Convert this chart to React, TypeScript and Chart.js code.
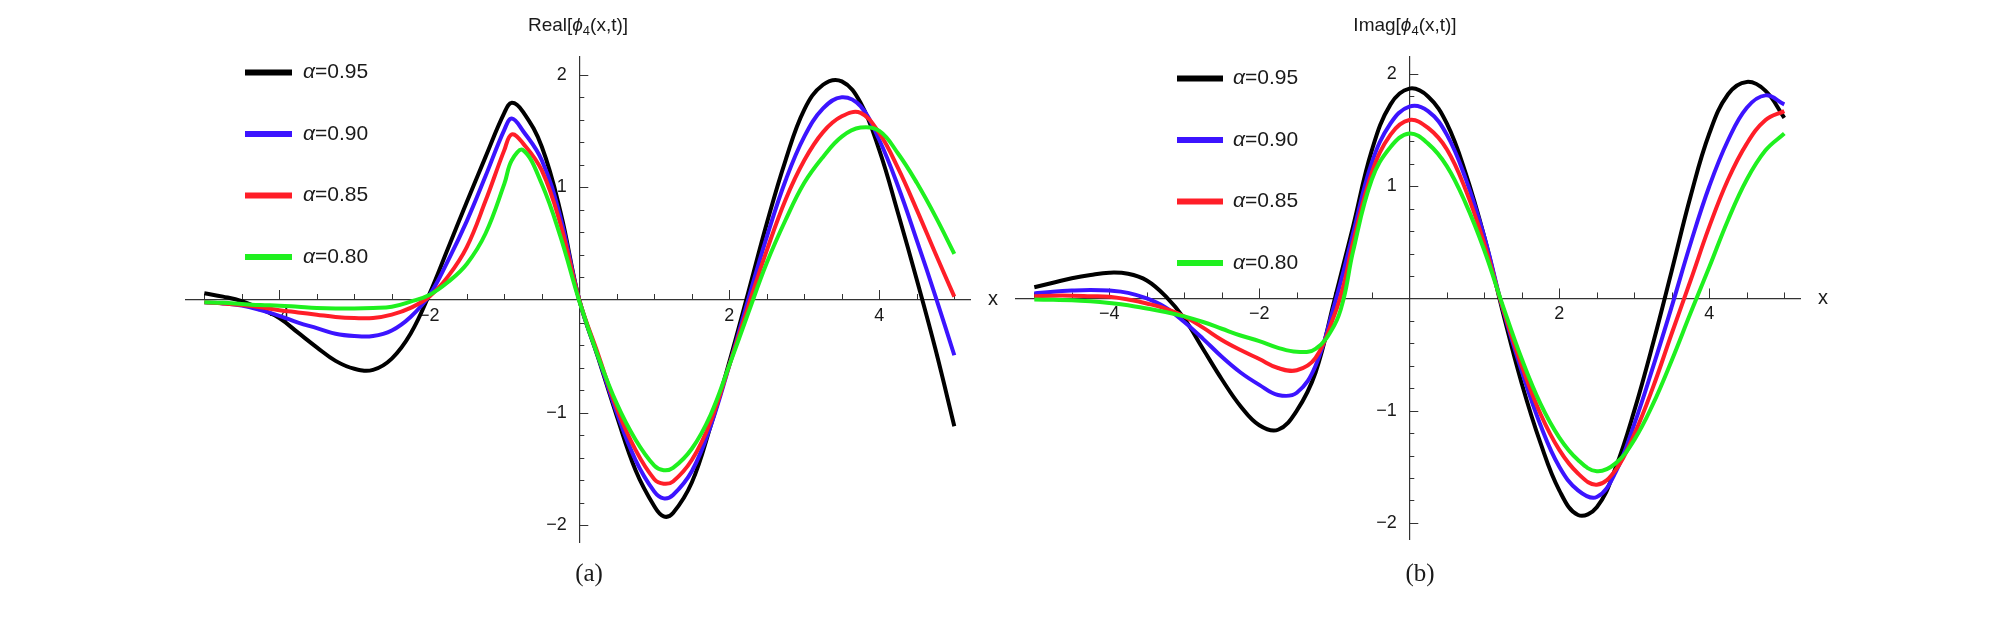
import React, { useEffect, useRef } from 'react';
import { Chart, registerables } from 'chart.js';

Chart.register(...registerables);

// ---------- data ----------
const X_A = [-5, -4.75, -4.5, -4.25, -4, -3.75, -3.5, -3.25, -3, -2.75, -2.5, -2.25, -2, -1.75, -1.5, -1.25, -1, -0.9, -0.75, -0.5, -0.25, 0, 0.25, 0.5, 0.75, 1, 1.125, 1.25, 1.5, 1.75, 2, 2.25, 2.5, 2.75, 3, 3.25, 3.5, 3.75, 4, 4.25, 4.5, 4.75, 5];

const REAL_095 = [0.06, 0.03, -0.01, -0.08, -0.16, -0.29, -0.42, -0.54, -0.61, -0.62, -0.52, -0.30, 0.05, 0.46, 0.87, 1.27, 1.66, 1.75, 1.67, 1.36, 0.78, 0.0, -0.51, -1.03, -1.51, -1.83, -1.92, -1.89, -1.62, -1.12, -0.55, 0.06, 0.68, 1.24, 1.69, 1.91, 1.94, 1.75, 1.33, 0.77, 0.18, -0.44, -1.12];
const REAL_090 = [-0.02, -0.03, -0.05, -0.09, -0.14, -0.20, -0.25, -0.30, -0.32, -0.32, -0.27, -0.15, 0.04, 0.35, 0.70, 1.10, 1.51, 1.61, 1.50, 1.24, 0.73, 0.0, -0.50, -1.00, -1.42, -1.70, -1.76, -1.73, -1.52, -1.12, -0.58, 0.0, 0.56, 1.06, 1.45, 1.70, 1.80, 1.72, 1.42, 1.01, 0.53, 0.03, -0.49];
const REAL_085 = [-0.02, -0.03, -0.045, -0.065, -0.09, -0.11, -0.13, -0.15, -0.16, -0.16, -0.13, -0.07, 0.03, 0.21, 0.47, 0.88, 1.33, 1.47, 1.39, 1.15, 0.67, 0.0, -0.48, -0.96, -1.33, -1.59, -1.63, -1.61, -1.42, -1.08, -0.58, -0.06, 0.44, 0.89, 1.24, 1.49, 1.63, 1.66, 1.48, 1.17, 0.80, 0.41, 0.03];
const REAL_080 = [-0.02, -0.025, -0.035, -0.045, -0.05, -0.06, -0.07, -0.075, -0.075, -0.07, -0.06, -0.015, 0.045, 0.16, 0.32, 0.59, 1.03, 1.24, 1.33, 1.03, 0.56, -0.01, -0.50, -0.92, -1.24, -1.47, -1.51, -1.49, -1.32, -1.02, -0.58, -0.12, 0.33, 0.71, 1.04, 1.27, 1.45, 1.53, 1.50, 1.30, 1.04, 0.74, 0.41];

const X_B = [-5, -4.75, -4.5, -4.25, -4, -3.75, -3.5, -3.25, -3, -2.75, -2.5, -2.25, -2, -1.75, -1.5, -1.25, -1, -0.875, -0.75, -0.5, -0.25, 0, 0.25, 0.5, 0.75, 1, 1.25, 1.5, 1.75, 2, 2.25, 2.5, 2.75, 3, 3.25, 3.5, 3.75, 4, 4.25, 4.5, 4.75, 5];

const IMAG_095 = [0.10, 0.14, 0.18, 0.21, 0.23, 0.22, 0.16, 0.02, -0.18, -0.45, -0.72, -0.96, -1.13, -1.17, -1.0, -0.66, -0.02, 0.31, 0.64, 1.32, 1.73, 1.87, 1.80, 1.56, 1.12, 0.55, -0.13, -0.76, -1.29, -1.71, -1.93, -1.86, -1.51, -1.0, -0.40, 0.25, 0.91, 1.47, 1.82, 1.93, 1.85, 1.61];
const IMAG_090 = [0.045, 0.06, 0.07, 0.075, 0.07, 0.05, 0.0, -0.08, -0.21, -0.36, -0.52, -0.66, -0.77, -0.86, -0.84, -0.60, -0.06, 0.25, 0.58, 1.21, 1.56, 1.71, 1.67, 1.46, 1.07, 0.55, -0.10, -0.65, -1.13, -1.50, -1.71, -1.77, -1.55, -1.12, -0.61, -0.07, 0.49, 1.0, 1.41, 1.70, 1.81, 1.73];
const IMAG_085 = [0.02, 0.025, 0.025, 0.02, 0.015, -0.01, -0.045, -0.09, -0.16, -0.26, -0.37, -0.46, -0.54, -0.62, -0.64, -0.53, -0.15, 0.12, 0.50, 1.12, 1.46, 1.59, 1.52, 1.33, 0.97, 0.49, -0.09, -0.60, -1.03, -1.35, -1.56, -1.66, -1.53, -1.21, -0.79, -0.31, 0.16, 0.64, 1.06, 1.38, 1.59, 1.67];
const IMAG_080 = [-0.01, -0.012, -0.015, -0.025, -0.04, -0.06, -0.09, -0.12, -0.16, -0.21, -0.27, -0.33, -0.38, -0.44, -0.475, -0.45, -0.24, 0.0, 0.42, 1.06, 1.35, 1.47, 1.38, 1.18, 0.85, 0.43, -0.07, -0.54, -0.94, -1.24, -1.44, -1.54, -1.47, -1.26, -0.94, -0.55, -0.13, 0.28, 0.70, 1.06, 1.32, 1.47];

const ALPHAS = ['0.95', '0.90', '0.85', '0.80'];
const COLORS = ['#000000', '#3c14ff', '#ff1e28', '#1ff01f'];

const X_MIN = -5.25;
const X_MAX = 5.22;
const Y_MIN = -2.15;
const Y_MAX = 2.16;
const X_MAJOR_STEP = 2;
const X_MINOR_STEP = 0.5;
const Y_MAJOR_STEP = 1;
const Y_MINOR_STEP = 0.2;

const SANS = '"Liberation Sans", Arial, Helvetica, sans-serif';
const SERIF = '"Liberation Serif", "DejaVu Serif", serif';
const AXIS_COLOR = '#333333';

type Run = { text: string; font: string; dy?: number };

function drawRuns(ctx: CanvasRenderingContext2D, runs: Run[], x: number, y: number, align: 'left' | 'center') {
  let total = 0;
  for (const r of runs) {
    ctx.font = r.font;
    total += ctx.measureText(r.text).width;
  }
  let cx = align === 'center' ? x - total / 2 : x;
  ctx.textAlign = 'left';
  ctx.textBaseline = 'middle';
  for (const r of runs) {
    ctx.font = r.font;
    ctx.fillText(r.text, cx, y + (r.dy || 0));
    cx += ctx.measureText(r.text).width;
  }
}

const fmt = (v: number) => (v < 0 ? '\u2212' + String(Math.abs(v)) : String(v));

const decorPlugin = {
  id: 'decor',
  beforeDatasetsDraw(chart: any) {
    const { ctx } = chart;
    const xs = chart.scales.x;
    const ys = chart.scales.y;
    const y0 = ys.getPixelForValue(0);
    const x0 = xs.getPixelForValue(0);
    ctx.save();
    ctx.strokeStyle = AXIS_COLOR;
    ctx.lineWidth = 1;
    for (let k = Math.ceil(xs.min / X_MINOR_STEP); k * X_MINOR_STEP <= xs.max; k++) {
      const v = k * X_MINOR_STEP;
      if (Math.abs(v) < 1e-9) continue;
      const major = Math.abs(v / X_MAJOR_STEP - Math.round(v / X_MAJOR_STEP)) < 1e-9;
      const px = Math.round(xs.getPixelForValue(v)) + 0.5;
      ctx.beginPath();
      ctx.moveTo(px, y0);
      ctx.lineTo(px, y0 - (major ? 10 : 6));
      ctx.stroke();
    }
    for (let k = Math.ceil(ys.min / Y_MINOR_STEP); k * Y_MINOR_STEP <= ys.max; k++) {
      const v = k * Y_MINOR_STEP;
      if (Math.abs(v) < 1e-9) continue;
      const major = Math.abs(v / Y_MAJOR_STEP - Math.round(v / Y_MAJOR_STEP)) < 1e-6;
      const py = Math.round(ys.getPixelForValue(v)) + 0.5;
      ctx.beginPath();
      ctx.moveTo(x0, py);
      ctx.lineTo(x0 + (major ? 9 : 5), py);
      ctx.stroke();
    }
    ctx.restore();
  },
  afterDraw(chart: any, _args: any, opts: any) {
    const { ctx } = chart;
    ctx.save();
    ctx.fillStyle = '#1a1a1a';
    // title
    drawRuns(
      ctx,
      [
        { text: opts.titleHead + '[', font: `19px ${SANS}` },
        { text: '\u03D5', font: `italic 19px ${SANS}` },
        { text: '4', font: `13px ${SANS}`, dy: 5 },
        { text: '(x,t)]', font: `19px ${SANS}` },
      ],
      opts.titleX,
      opts.titleY,
      'center'
    );
    // x label
    ctx.font = `20px ${SANS}`;
    ctx.textAlign = 'center';
    ctx.textBaseline = 'middle';
    ctx.fillText('x', opts.xLabelX, opts.xLabelY);
    // legend
    chart.data.datasets.forEach((ds: any, i: number) => {
      const ry = opts.legendRows[i];
      ctx.strokeStyle = ds.borderColor;
      ctx.lineWidth = 6;
      ctx.lineCap = 'butt';
      ctx.beginPath();
      ctx.moveTo(opts.legendX1, ry);
      ctx.lineTo(opts.legendX2, ry);
      ctx.stroke();
      ctx.fillStyle = '#1a1a1a';
      drawRuns(
        ctx,
        [
          { text: '\u03B1', font: `italic 21px ${SANS}` },
          { text: '=' + ALPHAS[i], font: `21px ${SANS}` },
        ],
        opts.legendTextX,
        ry,
        'left'
      );
    });
    // caption
    ctx.fillStyle = '#1a1a1a';
    ctx.font = `25px ${SERIF}`;
    ctx.textAlign = 'center';
    ctx.textBaseline = 'middle';
    ctx.fillText(opts.caption, opts.captionX, opts.captionY);
    ctx.restore();
  },
};

function makeConfig(xs: number[], series: number[][], padding: any, decor: any) {
  return {
    type: 'line' as const,
    data: {
      datasets: series.map((ys, i) => ({
        label: '\u03B1=' + ALPHAS[i],
        data: xs.map((x, j) => ({ x, y: ys[j] })),
        borderColor: COLORS[i],
        backgroundColor: COLORS[i],
        borderWidth: 4,
        pointRadius: 0,
        tension: 0.4,
        fill: false,
        order: series.length - 1 - i,
      })),
    },
    options: {
      animation: false,
      responsive: false,
      devicePixelRatio: 1,
      events: [],
      layout: { padding },
      plugins: {
        legend: { display: false },
        title: { display: false },
        tooltip: { enabled: false },
        decor,
      },
      scales: {
        x: {
          type: 'linear',
          min: X_MIN,
          max: X_MAX,
          position: { y: 0 },
          grid: { display: true, drawOnChartArea: false, drawTicks: false },
          border: { display: true, color: AXIS_COLOR, width: 1.2 },
          ticks: {
            stepSize: X_MAJOR_STEP,
            includeBounds: false,
            autoSkip: false,
            maxRotation: 0,
            padding: 5,
            color: '#1a1a1a',
            font: { family: SANS, size: 18 },
            callback: (v: number) => (Math.abs(v) < 1e-9 ? '' : fmt(v)),
          },
        },
        y: {
          type: 'linear',
          min: Y_MIN,
          max: Y_MAX,
          position: { x: 0 },
          grid: { display: true, drawOnChartArea: false, drawTicks: false },
          border: { display: true, color: AXIS_COLOR, width: 1.2 },
          ticks: {
            stepSize: Y_MAJOR_STEP,
            includeBounds: false,
            autoSkip: false,
            padding: 0,
            color: '#1a1a1a',
            font: { family: SANS, size: 18 },
            callback: (v: number) => (Math.abs(v) < 1e-9 ? '' : fmt(v) + '\u2002\u2009'),
          },
        },
      },
    },
    plugins: [decorPlugin],
  };
}

function Panel(props: { left: number; width: number; config: any }) {
  const ref = useRef<HTMLCanvasElement | null>(null);
  useEffect(() => {
    if (!ref.current) return;
    const chart = new Chart(ref.current, props.config);
    return () => chart.destroy();
  }, []);
  return (
    <canvas
      ref={ref}
      width={props.width}
      height={633}
      style={{ position: 'absolute', left: props.left, top: 0, width: props.width, height: 633, display: 'block' }}
    />
  );
}

export default function App() {
  const configA = makeConfig(
    X_A,
    [REAL_095, REAL_090, REAL_085, REAL_080],
    { left: 185.55, right: 34.2, top: 56.6, bottom: 90.7 },
    {
      titleHead: 'Real',
      titleX: 578,
      titleY: 26,
      xLabelX: 993,
      xLabelY: 299,
      legendX1: 245,
      legendX2: 292,
      legendTextX: 303,
      legendRows: [72.5, 134, 195.5, 257],
      caption: '(a)',
      captionX: 589,
      captionY: 574,
    }
  );
  const configB = makeConfig(
    X_B,
    [IMAG_095, IMAG_090, IMAG_085, IMAG_080],
    { left: 10.55, right: 214.2, top: 56.1, bottom: 93.3 },
    {
      titleHead: 'Imag',
      titleX: 400,
      titleY: 26,
      xLabelX: 818,
      xLabelY: 298,
      legendX1: 172,
      legendX2: 218,
      legendTextX: 228,
      legendRows: [78.5, 140, 201.5, 263],
      caption: '(b)',
      captionX: 415,
      captionY: 574,
    }
  );
  return (
    <div style={{ position: 'absolute', left: 0, top: 0, width: 2015, height: 633, background: '#ffffff', overflow: 'hidden' }}>
      <Panel left={0} width={1005} config={configA} />
      <Panel left={1005} width={1010} config={configB} />
    </div>
  );
}
